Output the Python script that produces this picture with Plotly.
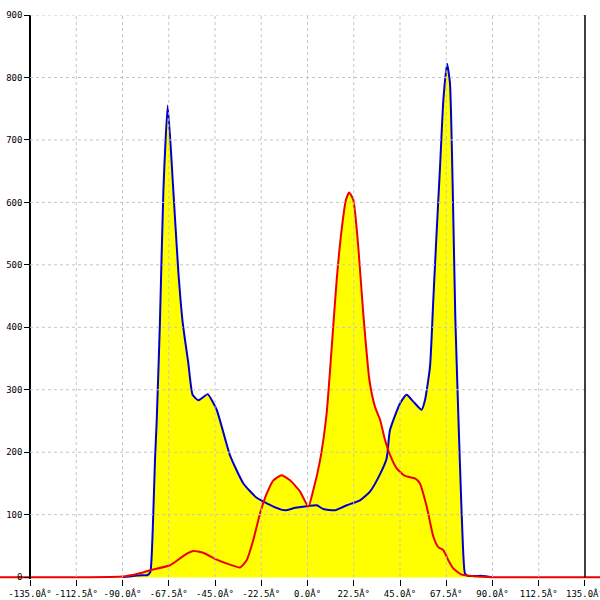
import plotly.graph_objects as go

# blue series (angle in degrees, count)
blue_x = [-90, -85, -80, -78, -76.5, -75.3, -74.2, -73.4, -71.8, -70.1, -68.0, -65.3, -62.8,
          -60.7, -58.0, -55.9, -53.1, -50.8, -48.6, -44.2, -37.7, -31.2, -24.7, -16.6, -10.9,
          -6.0, 0.5, 4.5, 7.7, 13.4, 19.1, 25.5, 30.4, 35.3, 38.5, 40.1, 45.0, 48.2, 51.5,
          55.5, 57.2, 59.6, 61.2, 62.8, 64.5, 66.1, 67.9, 69.3, 70.6, 71.9, 73.4, 74.2, 75.5,
          76.6, 78, 85, 90]
blue_y = [0, 2, 3, 3, 8, 75, 187, 247, 407, 620, 755, 620, 487,
          407, 343, 292, 283, 288, 293, 268, 195, 150, 127, 113, 107,
          111, 114, 115, 109, 107, 115, 123, 137, 165, 190, 235, 278, 292, 281,
          268, 284, 337, 444, 551, 658, 764, 822, 791, 631, 417, 257, 177, 59,
          6, 2, 2, 0]

# red series
red_x = [-180, -90, -83, -76.6, -66.9, -62, -58.5, -55.6, -50.7, -44.2, -37.7, -32.8, -29.6,
         -26.4, -23.1, -19.8, -16.6, -12.6, -8.5, -3.6, 0.4, 2.8, 6.1, 9.3, 11.8, 14.2, 16.6,
         18.7, 20.3, 22.3, 24.7, 27.1, 30.1, 32.8, 35.3, 37.7, 40.1, 43.4, 47.4, 52.3, 54.7,
         58.0, 61.2, 63.6, 66.1, 68.5, 70.9, 75.0, 80.7, 90, 180]
red_y = [0, 1, 5, 11, 19, 30, 38, 42, 39, 28, 20, 15.5, 27,
         59, 102, 134, 155, 163, 155, 137, 113, 139, 187, 262, 369, 476, 556,
         604, 616, 604, 529, 423, 316, 273, 252, 220, 196, 174, 162, 158, 150,
         113, 65, 48, 43, 27, 14, 4, 1.6, 0, 0]

x_ticks = [-135, -112.5, -90, -67.5, -45, -22.5, 0, 22.5, 45, 67.5, 90, 112.5, 135]
x_labels = ["-135.0Â°", "-112.5Â°", "-90.0Â°", "-67.5Â°", "-45.0Â°", "-22.5Â°", "0.0Â°",
            "22.5Â°", "45.0Â°", "67.5Â°", "90.0Â°", "112.5Â°", "135.0Â°"]
y_ticks = [0, 100, 200, 300, 400, 500, 600, 700, 800, 900]
y_labels = ["0", "100", "200", "300", "400", "500", "600", "700", "800", "900"]

fig = go.Figure()

# yellow area under both curves, then the lines on top
for xs, ys in [(blue_x, blue_y), (red_x, red_y)]:
    fig.add_trace(go.Scatter(x=xs, y=ys, mode="lines", fill="tozeroy",
                             fillcolor="#FFFF00",
                             line=dict(width=0, shape="spline", smoothing=0.5),
                             hoverinfo="skip", showlegend=False))
fig.add_trace(go.Scatter(x=blue_x, y=blue_y, mode="lines",
                         line=dict(color="#0000CC", width=2, shape="spline", smoothing=0.5),
                         showlegend=False))
fig.add_trace(go.Scatter(x=red_x, y=red_y, mode="lines",
                         line=dict(color="#EE0000", width=2, shape="spline", smoothing=0.5),
                         showlegend=False))

# dashed grid drawn over the fill
grid = dict(color="#C4C4C4", width=1, dash="3px,3px")
for v in y_ticks[1:]:
    fig.add_shape(type="line", x0=-135, x1=135, y0=v, y1=v, line=grid, layer="above")
for v in x_ticks[1:-1]:
    fig.add_shape(type="line", x0=v, x1=v, y0=0, y1=900, line=grid, layer="above")
# right frame line
fig.add_shape(type="line", x0=135, x1=135, y0=0, y1=900,
              line=dict(color="black", width=1.5), layer="above")

mono = dict(family="DejaVu Sans Mono", size=9, color="black")

fig.update_layout(
    width=600, height=600,
    margin=dict(l=0, r=0, t=15, b=21, autoexpand=False),
    paper_bgcolor="white", plot_bgcolor="white",
    xaxis=dict(range=[-149.6, 142.3], tickvals=x_ticks, ticktext=x_labels,
               ticks="outside", ticklen=6, tickcolor="black", showgrid=False,
               zeroline=False, showline=False, tickfont=mono,
               ticklabeloverflow="allow", automargin=False),
    yaxis=dict(range=[-3, 900], tickvals=y_ticks, ticktext=y_labels,
               anchor="free", position=0.05, showline=True, linecolor="black",
               linewidth=1.5, ticks="outside", ticklen=5, tickcolor="black",
               showgrid=False, zeroline=False, tickfont=mono, automargin=False),
)

# drop the page's default body margin so the chart sits at the window corner
fig.write_html("out.html", config={"displayModeBar": False},
               post_script="document.body.style.margin='0';")
